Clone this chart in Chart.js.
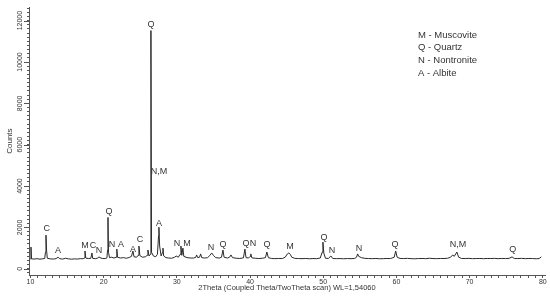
<!DOCTYPE html>
<html>
<head>
<meta charset="utf-8">
<script src="https://cdn.jsdelivr.net/npm/chart.js@4.4.1/dist/chart.umd.min.js"></script>
<style>
  html, body { margin: 0; padding: 0; background: #fff; }
  #wrap { width: 550px; height: 300px; position: relative; }
</style>
</head>
<body>
<div id="wrap"><canvas id="xrd"></canvas></div>
<script>
// scan (2theta in degrees, counts)
var twoTheta = [
    10.0, 10.07, 10.15, 10.5, 10.9, 11.3, 11.7, 11.95, 12.05, 12.12, 12.2, 12.3, 12.7, 13.1, 13.5, 13.76, 14.0, 14.4, 14.8, 15.2,
    15.6, 16.0, 16.4, 16.8, 17.2, 17.35, 17.45, 17.55, 17.9, 18.25, 18.4, 18.5, 18.9, 19.2, 19.36, 19.5, 19.8, 20.2, 20.45, 20.53,
    20.59, 20.66, 20.8, 21.1, 21.4, 21.7, 21.8, 21.9, 22.3, 22.7, 23.1, 23.5, 23.8, 24.0, 24.15, 24.5, 24.7, 24.82, 24.95, 25.3,
    25.7, 25.95, 26.05, 26.2, 26.38, 26.46, 26.54, 26.8, 27.1, 27.35, 27.5, 27.55, 27.65, 27.85, 28.05, 28.1, 28.2, 28.5, 28.9, 29.3,
    29.7, 29.9, 30.2, 30.45, 30.56, 30.68, 30.83, 30.95, 31.4, 31.9, 32.3, 32.6, 32.7, 32.85, 33.1, 33.25, 33.4, 33.8, 34.2, 34.5,
    34.76, 35.0, 35.3, 35.8, 36.1, 36.3, 36.45, 36.9, 37.2, 37.4, 37.6, 38.1, 38.6, 39.1, 39.3, 39.45, 39.8, 40.0, 40.1, 40.25,
    40.7, 41.2, 41.7, 42.1, 42.3, 42.5, 42.9, 43.4, 43.9, 44.4, 44.8, 45.1, 45.3, 45.5, 45.7, 46.1, 46.6, 47.1, 47.6, 48.1,
    48.6, 49.1, 49.6, 49.85, 49.96, 50.08, 50.3, 50.7, 51.05, 51.3, 51.8, 52.3, 52.8, 53.3, 53.8, 54.3, 54.55, 54.7, 54.85, 55.2,
    55.7, 56.2, 56.7, 57.2, 57.7, 58.2, 58.7, 59.2, 59.7, 59.9, 60.1, 60.5, 61.0, 61.5, 62.0, 62.5, 63.0, 63.5, 64.0, 64.5,
    65.0, 65.5, 66.0, 66.5, 67.0, 67.4, 67.7, 67.9, 68.26, 68.5, 68.9, 69.4, 69.9, 70.4, 70.9, 71.4, 71.9, 72.4, 72.9, 73.4,
    73.9, 74.4, 74.9, 75.4, 75.8, 76.1, 76.6, 77.1, 77.6, 78.1, 78.6, 79.1, 79.5, 79.8
];
var counts = [
    470, 1050, 480, 470, 490, 465, 485, 500, 800, 1625, 900, 510, 480, 470, 490, 560, 490, 470, 510, 480,
    465, 480, 470, 490, 485, 520, 860, 520, 495, 510, 765, 505, 490, 520, 575, 540, 500, 495, 530, 900,
    2485, 800, 540, 560, 520, 560, 955, 560, 520, 540, 510, 550, 600, 860, 580, 560, 650, 1100, 640, 560,
    580, 650, 910, 620, 700, 11520, 800, 620, 580, 700, 1600, 2010, 1100, 620, 800, 1000, 620, 540, 520, 510,
    560, 620, 560, 700, 1100, 650, 1000, 600, 540, 520, 520, 560, 670, 540, 560, 720, 540, 520, 540, 640,
    765, 650, 540, 520, 560, 910, 560, 520, 560, 670, 540, 510, 500, 530, 955, 540, 520, 600, 720, 530,
    510, 495, 510, 540, 810, 540, 500, 490, 500, 495, 560, 720, 765, 700, 560, 505, 495, 490, 500, 485,
    495, 490, 520, 800, 1290, 760, 510, 500, 620, 500, 490, 495, 485, 495, 490, 500, 560, 720, 600, 540,
    505, 495, 490, 500, 485, 490, 500, 495, 560, 860, 560, 500, 495, 505, 490, 485, 495, 500, 490, 510,
    495, 490, 500, 495, 510, 560, 670, 600, 810, 560, 500, 495, 505, 490, 495, 500, 490, 500, 495, 505,
    490, 500, 495, 505, 575, 500, 495, 505, 490, 500, 495, 485, 495, 575
];

// phase marks above the peaks
var markText = ["C", "A", "M", "C", "N", "Q", "N", "A", "A", "C", "Q", "N,M", "A", "N", "M", "N", "Q", "Q", "N", "Q", "M", "Q", "N", "N", "Q", "N,M", "Q"];
var markTheta = [12.21, 13.76, 17.45, 18.54, 19.36, 20.72, 21.13, 22.36, 24.0, 24.95, 26.46, 27.55, 27.55, 30.01, 31.38, 34.66, 36.3, 39.44, 40.4, 42.31, 45.45, 50.1, 51.2, 54.9, 59.8, 68.4, 75.9];
var markCounts = [1960, 908, 1147, 1147, 860, 2772, 1195, 1195, 956, 1434, 11807, 4685, 2199, 1243, 1243, 1052, 1195, 1243, 1243, 1195, 1099, 1530, 860, 1004, 1195, 1195, 956];

var legendLines = ["M - Muscovite", "Q - Quartz", "N - Nontronite", "A - Albite"];
var yLabels = [0, 2000, 4000, 6000, 8000, 10000, 12000];
var xLabelStep = 10;

var txtColor = "#333";
var fontFam = "'Liberation Sans', Arial, sans-serif";

var points = twoTheta.map(function (t, i) { return { x: t, y: counts[i] }; });

var extrasPlugin = {
    id: "extras",
    afterDraw: function (chart) {
        var ctx = chart.ctx, xs = chart.scales.x, ys = chart.scales.y, area = chart.chartArea;
        ctx.save();
        ctx.fillStyle = txtColor;
        ctx.strokeStyle = "#555";
        ctx.lineWidth = 1;
        // y labels, turned, with longer ticks
        ctx.font = "7px " + fontFam;
        ctx.textAlign = "center";
        ctx.textBaseline = "middle";
        yLabels.forEach(function (v) {
            var py = ys.getPixelForValue(v);
            ctx.save();
            ctx.translate(area.left - 9, py);
            ctx.rotate(-Math.PI / 2);
            ctx.fillText(String(v), 0, 0);
            ctx.restore();
            var ly = Math.round(py) + 0.5;
            ctx.beginPath(); ctx.moveTo(area.left - 5, ly); ctx.lineTo(area.left, ly); ctx.stroke();
        });
        // phase marks
        ctx.font = "9px " + fontFam;
        ctx.textAlign = "center";
        ctx.textBaseline = "middle";
        markText.forEach(function (s, i) {
            ctx.fillText(s, xs.getPixelForValue(markTheta[i]), ys.getPixelForValue(markCounts[i]));
        });
        // key
        ctx.font = "9.5px " + fontFam;
        ctx.textAlign = "left";
        legendLines.forEach(function (s, i) {
            ctx.fillText(s, 418, 35 + i * 12.7);
        });
        ctx.restore();
    }
};

new Chart(document.getElementById("xrd"), {
    type: "line",
    data: {
        datasets: [{
            data: points,
            borderColor: "#2a2a2a",
            borderWidth: 1,
            pointRadius: 0,
            tension: 0,
            fill: false
        }]
    },
    options: {
        responsive: true,
        maintainAspectRatio: false,
        animation: false,
        layout: { padding: { top: 4, right: 5, left: 0, bottom: 0 } },
        plugins: { legend: { display: false }, tooltip: { enabled: false } },
        scales: {
            x: {
                type: "linear",
                min: 9.8,
                max: 80.3,
                afterFit: function (s) { s.height = 25; },
                border: { display: true, color: "#555", width: 1 },
                grid: { display: true, drawOnChartArea: false, drawTicks: true, tickLength: 3, color: "#555" },
                ticks: {
                    stepSize: 1,
                    includeBounds: false,
                    autoSkip: false,
                    maxRotation: 0,
                    padding: 0,
                    color: txtColor,
                    font: { size: 7, family: fontFam },
                    callback: function (v) { return v % xLabelStep === 0 ? String(v) : ""; }
                },
                title: {
                    display: true,
                    text: "2Theta (Coupled Theta/TwoTheta scan) WL=1,54060",
                    color: txtColor,
                    font: { size: 7.5, family: fontFam },
                    padding: { top: 0, bottom: 8 }
                }
            },
            y: {
                min: -300,
                max: 12650,
                afterFit: function (s) { s.width = 29; },
                border: { display: true, color: "#555", width: 1 },
                grid: { display: true, drawOnChartArea: false, drawTicks: true, tickLength: 2, color: "#555" },
                ticks: {
                    stepSize: 200,
                    includeBounds: false,
                    autoSkip: false,
                    padding: 0,
                    callback: function () { return ""; }
                },
                title: {
                    display: true,
                    text: "Counts",
                    color: txtColor,
                    font: { size: 8, family: fontFam },
                    padding: { top: 5, bottom: 0 }
                }
            }
        }
    },
    plugins: [extrasPlugin]
});
</script>
</body>
</html>
